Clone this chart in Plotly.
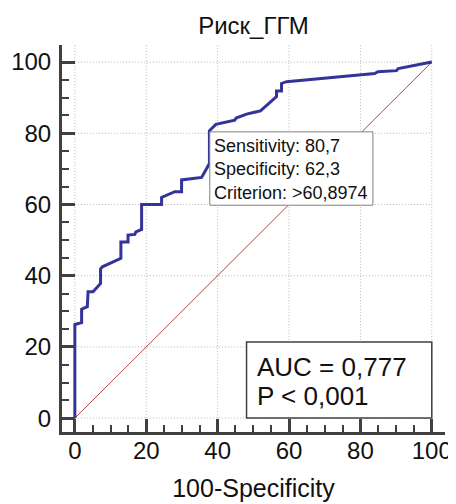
import plotly.graph_objects as go

# ROC curve points (100-Specificity, Sensitivity)
fpr = [0, 0, 1.9, 1.9, 3.5, 3.7, 5.1, 7.2, 7.2, 7.7, 12.9, 12.9, 14.9, 14.9, 16.8, 17.1,
       18.7, 18.7, 24.3, 24.3, 28.0, 29.9, 29.9, 35.5, 35.9, 37.7, 37.7, 39.5, 44.8, 45.2,
       48.1, 52.0, 56.5, 56.5, 57.9, 57.9, 59.3, 79.8, 84.0, 84.9, 90.1, 90.6, 100]
tpr = [0, 26.3, 26.8, 30.6, 31.3, 35.5, 35.5, 37.8, 41.9, 42.5, 44.9, 49.5, 49.5, 51.4, 51.6, 52.3,
       53.0, 60.0, 60.0, 62.0, 63.6, 63.6, 66.9, 67.6, 68.3, 71.5, 80.7, 82.5, 83.7, 84.3,
       85.4, 86.3, 90.3, 91.9, 91.9, 94.0, 94.5, 96.5, 96.8, 97.3, 97.6, 98.2, 100]
diag_x = [0, 100]
diag_y = [0, 100]
tick_vals = [0, 20, 40, 60, 80, 100]
tick_text = ["0", "20", "40", "60", "80", "100"]

title_text = "Риск_ГГМ"
x_title = "100-Specificity"
crit_text = "Sensitivity: 80,7<br>Specificity: 62,3<br>Criterion: >60,8974"
auc_line1 = "AUC = 0,777"
auc_line2 = "P < 0,001"

FONT = "Liberation Sans, Arial, sans-serif"
XR = [-3.6, 103.7]
YR = [-3.9, 104.8]
OFF = 8  # page body margin offset

fig = go.Figure()
fig.add_trace(go.Scatter(x=diag_x, y=diag_y, mode="lines",
                         line=dict(color="#b04848", width=1), hoverinfo="skip"))
fig.add_trace(go.Scatter(x=fpr, y=tpr, mode="lines",
                         line=dict(color="#333399", width=3)))

GRID = dict(color="#b8b8b8", width=1, dash="1px,2px")
shapes = []
for v in tick_vals:
    shapes.append(dict(type="line", xref="x", yref="y", x0=v, x1=v, y0=0, y1=YR[1],
                       line=GRID, layer="below"))
    shapes.append(dict(type="line", xref="x", yref="y", x0=0, x1=100, y0=v, y1=v,
                       line=GRID, layer="below"))
# text boxes
shapes.append(dict(type="rect", xref="x", yref="y", x0=37.8, x1=83.5, y0=59.8, y1=80.4,
                   line=dict(color="#808080", width=1), fillcolor="white", layer="above"))
shapes.append(dict(type="rect", xref="x", yref="y", x0=48.1, x1=100, y0=0, y1=21.4,
                   line=dict(color="#404040", width=1.5), fillcolor="white", layer="above"))

annotations = [
    dict(x=38.4, y=69.7, xref="x", yref="y", text=crit_text, showarrow=False,
         xanchor="left", yanchor="middle", align="left",
         font=dict(family=FONT, size=18, color="#111")),
    dict(x=50.5, y=14.3, xref="x", yref="y", text=auc_line1, showarrow=False,
         xanchor="left", yanchor="middle", align="left",
         font=dict(family=FONT, size=26, color="#111")),
    dict(x=50.5, y=6.1, xref="x", yref="y", text=auc_line2, showarrow=False,
         xanchor="left", yanchor="middle", align="left",
         font=dict(family=FONT, size=26, color="#111")),
]

axis_common = dict(
    showgrid=False, zeroline=False, showline=True, linecolor="#404040", linewidth=3,
    ticks="inside", ticklen=13, tickwidth=2.5, tickcolor="#404040",
    tickvals=tick_vals, ticktext=tick_text,
    tickfont=dict(family=FONT, size=24, color="#111"),
    minor=dict(ticks="inside", ticklen=7, tickwidth=2, tickcolor="#404040", dtick=5, tick0=0,
               showgrid=False),
    mirror=False, fixedrange=True, automargin=False,
)

fig.update_layout(
    width=456, height=504,
    margin=dict(l=62 - OFF, r=11 + OFF, t=45 - OFF, b=72 + OFF),
    paper_bgcolor="white", plot_bgcolor="white",
    showlegend=False,
    title=dict(text=title_text, x=0.5, xref="paper", y=1 - (26 - OFF) / 504, yref="container",
               xanchor="center", yanchor="middle", automargin=False,
               font=dict(family=FONT, size=24, color="#111")),
    xaxis=dict(range=XR, title=dict(text=x_title, standoff=17,
                                    font=dict(family=FONT, size=25, color="#111")),
               ticklabelstandoff=-5, **axis_common),
    yaxis=dict(range=YR, ticklabelstandoff=3, **axis_common),
    shapes=shapes, annotations=annotations,
)

fig.write_html("out.html")
